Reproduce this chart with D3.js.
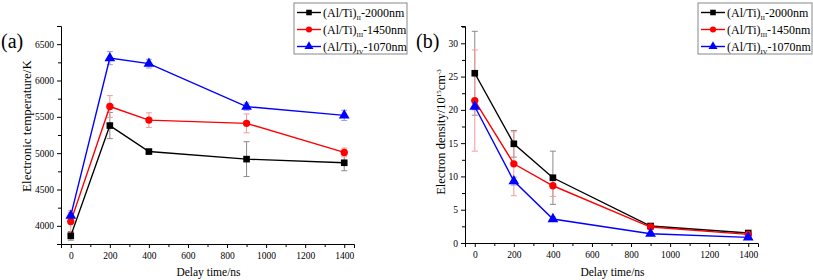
<!DOCTYPE html>
<html>
<head>
<meta charset="utf-8">
<script src="https://cdn.jsdelivr.net/npm/d3@7"></script>
<style>
  body { margin: 0; background: #fff; }
  svg text { font-family: "Liberation Serif", "Times New Roman", serif; }
  .axis path, .axis line { stroke: #000; }
  .axis text { fill: #000; }
</style>
</head>
<body>
<script>
var delay = [0, 200, 400, 900, 1400];
var seriesNames = ["II", "III", "IV"];
var seriesNm = ["2000nm", "1450nm", "1070nm"];

// electronic temperature (K)
var tempII = [3862, 5380, 5022, 4918, 4868];
var tempIII = [4058, 5642, 5455, 5410, 5010];
var tempIV = [4140, 6308, 6232, 5640, 5520];
var tempErrII = [60, 180, 30, 240, 110];
var tempErrIII = [150, 150, 100, 130, 60];
var tempErrIV = [40, 90, 60, 50, 70];

// electron density (10^15 cm^-3)
var densII = [25.5, 14.9, 9.8, 2.55, 1.5];
var densIII = [21.4, 11.9, 8.6, 2.4, 1.3];
var densIV = [20.5, 9.3, 3.6, 1.4, 0.85];
var densErrII = [6.3, 2.0, 4.0, 0.2, 0.15];
var densErrIII = [7.6, 4.8, 1.6, 0.2, 0.15];
var densErrIV = [0.5, 0.6, 0.3, 0.2, 0.2];

var xTicks = [0, 200, 400, 600, 800, 1000, 1200, 1400];
var tempTicks = [4000, 4500, 5000, 5500, 6000, 6500];
var densTicks = [0, 5, 10, 15, 20, 25, 30];

var colors = ["#000000", "#ff0000", "#0000ff"];
var errColors = ["#8a8a8a", "#f59a9a", "#9a9af5"];
var symbols = [d3.symbolSquare, d3.symbolCircle, d3.symbolTriangle];
var symSizes = [44, 42, 50];

var serif = "Liberation Serif, Times New Roman, serif";

var svg = d3.select("body").append("svg")
    .attr("width", 813)
    .attr("height", 280);

function drawPanel(opt) {
    var g = svg.append("g");
    var x = d3.scaleLinear().domain([-50, 1450]).range([opt.left, opt.right]);
    var y = d3.scaleLinear().domain(opt.yDomain).range([opt.bottom, opt.top]);

    // minor ticks
    var xMinor = d3.range(100, 1450, 200);
    g.append("g").attr("class", "axis")
        .attr("transform", "translate(0," + opt.bottom + ")")
        .call(d3.axisBottom(x).tickValues(xMinor).tickSize(3).tickFormat(""))
        .select(".domain").remove();
    g.append("g").attr("class", "axis")
        .attr("transform", "translate(" + opt.left + ",0)")
        .call(d3.axisLeft(y).tickValues(opt.yMinor).tickSize(3).tickFormat(""))
        .select(".domain").remove();

    g.append("g").attr("class", "axis")
        .attr("transform", "translate(0," + opt.bottom + ")")
        .call(d3.axisBottom(x).tickValues(xTicks).tickFormat(d3.format("d"))
            .tickSizeOuter(0).tickSize(4).tickPadding(4))
        .attr("font-family", serif).attr("font-size", 9.5);
    g.append("g").attr("class", "axis")
        .attr("transform", "translate(" + opt.left + ",0)")
        .call(d3.axisLeft(y).tickValues(opt.yTicks).tickFormat(d3.format("d"))
            .tickSizeOuter(0).tickSize(4).tickPadding(3))
        .attr("font-family", serif).attr("font-size", 9.5);

    // error bars
    opt.series.forEach(function(s, i) {
        var eg = g.append("g")
            .attr("stroke", errColors[i])
            .attr("stroke-width", 1);
        delay.forEach(function(t, j) {
            var cx = x(t), y0 = y(s[j] - opt.errs[i][j]), y1 = y(s[j] + opt.errs[i][j]);
            eg.append("line").attr("x1", cx).attr("x2", cx).attr("y1", y0).attr("y2", y1);
            eg.append("line").attr("x1", cx - 3).attr("x2", cx + 3).attr("y1", y0).attr("y2", y0);
            eg.append("line").attr("x1", cx - 3).attr("x2", cx + 3).attr("y1", y1).attr("y2", y1);
        });
    });

    var line = d3.line()
        .x(function(d, j) { return x(delay[j]); })
        .y(function(d) { return y(d); });

    opt.series.forEach(function(s, i) {
        g.append("path")
            .datum(s)
            .attr("fill", "none")
            .attr("stroke", colors[i])
            .attr("stroke-width", 1.4)
            .attr("d", line);
        g.selectAll(".pt" + i)
            .data(s)
            .enter()
            .append("path")
            .attr("class", "pt" + i)
            .attr("fill", colors[i])
            .attr("d", d3.symbol().type(symbols[i]).size(symSizes[i]))
            .attr("transform", function(d, j) {
                return "translate(" + x(delay[j]) + "," + y(d) + ")"; });
    });

    // axis titles
    g.append("text")
        .attr("x", (opt.left + opt.right) / 2 + 1)
        .attr("y", 276)
        .attr("text-anchor", "middle")
        .style("font-size", "11.5px")
        .text("Delay time/ns");

    var yt = g.append("text")
        .attr("transform", "translate(" + opt.yTitleX + "," + opt.yTitleY + ") rotate(-90)")
        .attr("text-anchor", "middle")
        .style("font-size", opt.yTitleSize);
    opt.yTitle(yt);

    g.append("text")
        .attr("x", opt.labelX)
        .attr("y", 48)
        .style("font-size", "20px")
        .text(opt.label);

    // legend
    var lg = g.append("g").attr("transform", "translate(" + opt.legX + ",3)");
    lg.append("rect")
        .attr("width", opt.legW).attr("height", 51)
        .attr("fill", "#fff")
        .attr("stroke", "#888")
        .attr("stroke-width", 1);
    seriesNames.forEach(function(n, i) {
        var ly = 9.5 + i * 17;
        lg.append("line")
            .attr("x1", 3).attr("x2", 27).attr("y1", ly).attr("y2", ly)
            .attr("stroke", colors[i]).attr("stroke-width", 1.4);
        lg.append("path")
            .attr("fill", colors[i])
            .attr("d", d3.symbol().type(symbols[i]).size(symSizes[i] * 0.7))
            .attr("transform", "translate(15," + ly + ")");
        var t = lg.append("text")
            .attr("x", 29).attr("y", ly + 4.5)
            .style("font-size", "12px");
        t.append("tspan").text("(Al/Ti)");
        t.append("tspan").attr("dy", 3).style("font-size", "6.5px").text(n);
        t.append("tspan").attr("dy", -3).text("-" + seriesNm[i]);
    });
}

drawPanel({
    left: 61, right: 354, top: 26, bottom: 244,
    yDomain: [3750, 6750],
    yTicks: tempTicks,
    yMinor: d3.range(3750, 6751, 500),
    series: [tempII, tempIII, tempIV],
    errs: [tempErrII, tempErrIII, tempErrIV],
    yTitleX: 31, yTitleY: 126, yTitleSize: "13px",
    yTitle: function(t) { t.text("Electronic temperature/K"); },
    label: "(a)", labelX: 1,
    legX: 294, legW: 113
});

drawPanel({
    left: 465, right: 758, top: 26, bottom: 243,
    yDomain: [0, 32.6],
    yTicks: densTicks,
    yMinor: d3.range(2.5, 32.6, 5),
    series: [densII, densIII, densIV],
    errs: [densErrII, densErrIII, densErrIV],
    yTitleX: 445, yTitleY: 132, yTitleSize: "12.5px",
    yTitle: function(t) {
        t.append("tspan").text("Electron density/10");
        t.append("tspan").attr("dy", -4).style("font-size", "7px").text("15");
        t.append("tspan").attr("dy", 4).text("cm");
        t.append("tspan").attr("dy", -4).style("font-size", "7px").text("-3");
    },
    label: "(b)", labelX: 416,
    legX: 698, legW: 114
});
</script>
</body>
</html>
